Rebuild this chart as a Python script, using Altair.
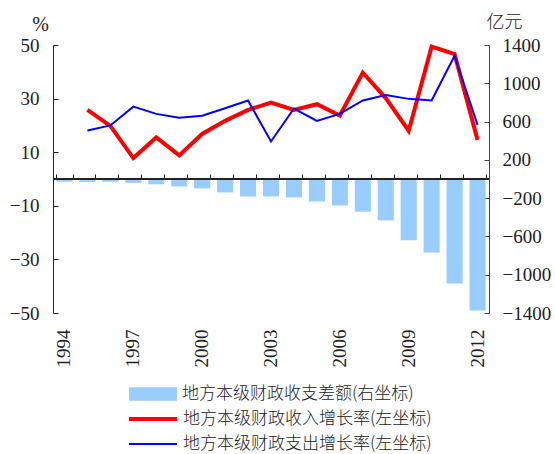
import altair as alt
import pandas as pd

years = list(range(1994, 2013))
balance = [-30, -30, -30, -40, -56, -77, -98, -140, -182, -182, -192, -234, -276,
           -342, -432, -641, -767, -1091, -1373]
growth_years = list(range(1995, 2013))
revenue_growth = [25.8, 19.8, 7.8, 15.5, 8.8, 16.8, 21.7, 25.8, 28.5, 25.8, 27.9,
                  23.7, 39.7, 30.2, 18.0, 49.4, 46.6, 14.6]
expend_growth = [18.1, 20.0, 27.0, 24.3, 22.9, 23.6, 26.4, 29.3, 14.0, 26.3, 21.7,
                 24.3, 29.3, 31.3, 29.9, 29.3, 46.0, 20.2]
left_ticks = [-50, -30, -10, 10, 30, 50]
right_ticks = [-1400, -1000, -600, -200, 200, 600, 1000, 1400]
year_labels = [1994, 1997, 2000, 2003, 2006, 2009, 2012]
names = ["地方本级财政收支差额(右坐标)", "地方本级财政收入增长率(左坐标)", "地方本级财政支出增长率(左坐标)"]

NUM_FONT = "Liberation Serif"
CJK_FONT = "Noto Sans CJK SC"

bar_df = pd.DataFrame({"year": years, "value": balance, "s": names[0]})
rev_df = pd.DataFrame({"year": growth_years, "value": revenue_growth, "s": names[1]})
exp_df = pd.DataFrame({"year": growth_years, "value": expend_growth, "s": names[2]})

xscale = alt.Scale(domain=years, paddingInner=0.3, paddingOuter=0.15)
rscale = alt.Scale(domain=[-1400, 1400], nice=False, zero=False)
lscale = alt.Scale(domain=[-50, 50], nice=False, zero=False)

def leg(x, y, stype, size, sw, offset):
    return alt.Legend(orient="none", legendX=x, legendY=y, title=None, padding=0,
                      symbolType=stype, symbolSize=size, symbolStrokeWidth=sw,
                      labelFont=CJK_FONT, labelFontSize=17, labelColor="#222",
                      labelFontWeight=300,
                      labelOffset=offset, labelLimit=400)

bars = alt.Chart(bar_df).mark_bar(color="#99CCFF").encode(
    x=alt.X("year:O", scale=xscale,
            axis=alt.Axis(orient="bottom", values=year_labels, labelAngle=270,
                          ticks=False, domain=False, labelPadding=16, title=None,
                          labelFont=NUM_FONT, labelFontSize=19, labelColor="#222")),
    y=alt.Y("value:Q", scale=rscale,
            axis=alt.Axis(orient="right", values=right_ticks, ticks=False, domain=True,
                          format="d",
                          domainColor="#444", labelPadding=13, grid=False,
                          labelFont=NUM_FONT, labelFontSize=19, labelColor="#222",
                          title="亿元", titleAngle=0, titleX=15, titleY=-18,
                          titleAlign="center", titleBaseline="alphabetic",
                          titleFont=CJK_FONT, titleFontSize=18, titleFontWeight=300,
                          titleColor="#222")),
    color=alt.Color("s:N", scale=alt.Scale(domain=[names[0]], range=["#99CCFF"]),
                    legend=leg(76, 325, "M-1,-0.28H1V0.28H-1Z", 2304, 0, 5)),
)

tick_layer = alt.Chart(bar_df).mark_bar(opacity=0).encode(
    x=alt.X("year:O", scale=xscale,
            axis=alt.Axis(orient="bottom", offset=-139, tickBand="extent", tickSize=5,
                          tickColor="#222", labels=False, domain=False, title=None)),
    y=alt.Y("value:Q", scale=rscale,
            axis=alt.Axis(orient="right", values=right_ticks, offset=-5, tickSize=5,
                          tickColor="#444", labels=False, domain=False, title=None,
                          grid=False)),
)

rev_line = alt.Chart(rev_df).mark_line(strokeWidth=4).encode(
    x=alt.X("year:O", scale=xscale, axis=None),
    y=alt.Y("value:Q", scale=lscale,
            axis=alt.Axis(orient="left", values=left_ticks, ticks=False, domain=True,
                          domainColor="#222", labelPadding=14, grid=False,
                          labelFont=NUM_FONT, labelFontSize=19, labelColor="#222",
                          title="%", titleAngle=0, titleX=-13, titleY=-15,
                          titleAlign="center", titleBaseline="alphabetic",
                          titleFont=NUM_FONT, titleFontSize=20, titleFontWeight="normal",
                          titleColor="#222")),
    color=alt.Color("s:N", scale=alt.Scale(domain=[names[1]], range=["#FF0000"]),
                    legend=leg(74, 348, "stroke", 2304, 4, 4)),
)

exp_line = alt.Chart(exp_df).mark_line(strokeWidth=2).encode(
    x=alt.X("year:O", scale=xscale, axis=None),
    y=alt.Y("value:Q", scale=lscale,
            axis=alt.Axis(orient="left", values=left_ticks, offset=-5, tickSize=5,
                          tickColor="#222", labels=False, domain=False, title=None,
                          grid=False)),
    color=alt.Color("s:N", scale=alt.Scale(domain=[names[2]], range=["#0000FF"]),
                    legend=leg(75, 374, "stroke", 2304, 2, 5)),
)

zero = alt.Chart(rev_df).mark_rule(color="#222", strokeWidth=1).encode(
    y=alt.datum(0, scale=lscale, axis=None),
)

chart = alt.layer(bars, tick_layer, zero, rev_line, exp_line).resolve_scale(
    y="independent", color="independent"
).resolve_axis(x="independent").properties(
    width=436, height=268,
    autosize=alt.AutoSizeParams(type="none"),
    padding={"left": 53, "top": 45, "right": 66, "bottom": 141},
    background="white",
).configure_view(stroke=None)

chart.save("out.html", embed_options={"renderer": "svg", "actions": False})
